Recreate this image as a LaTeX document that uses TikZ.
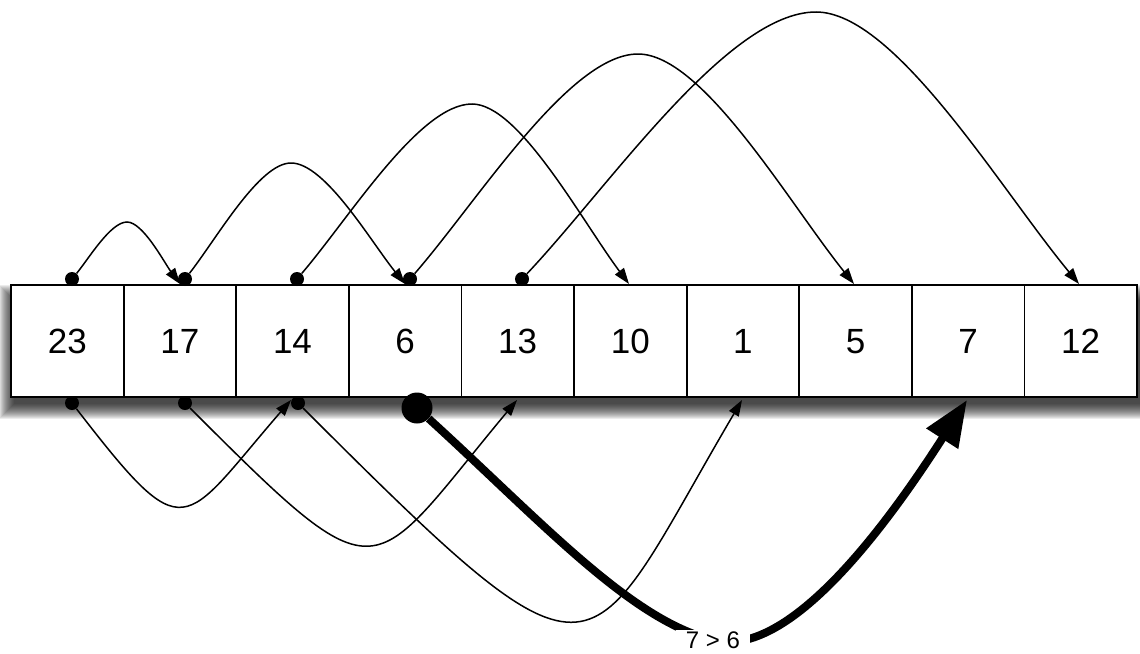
\documentclass[tikz,border=0pt]{standalone}
\usepackage{fontspec}
\setmainfont{Liberation Sans}
\usetikzlibrary{arrows.meta}
\begin{document}
\begin{tikzpicture}[x=1pt,y=-1pt,
  cell/.style={draw, line width=1.8pt, fill=white, minimum width=112.6pt, minimum height=112pt, inner sep=0pt, text height=25pt, text depth=0pt, font=\fontsize{35}{40}\selectfont},
  dot/.style={circle, fill=black, inner sep=0pt, minimum size=14pt},
  bigdot/.style={circle, fill=black, inner sep=0pt, minimum size=31pt},
  arc/.style={line width=1.5pt, -{Triangle[length=16pt,width=11pt]}},
  heavy/.style={line width=8pt, -{Triangle[length=46pt,width=36pt]}},
  lbl/.style={fill=white, inner xsep=10pt, inner ysep=2pt, font=\fontsize{24}{26}\selectfont}]
\useasboundingbox (0,0) rectangle (1140,653);
% shadow
\foreach \i in {0,...,15} { \fill[black, opacity=0.075] ({14-\i}, {300-\i}) rectangle ({1140+\i}, {404+\i}); }
% cells
\foreach \v [count=\k from 0] in {23,17,14,6,13,10,1,5,7,12}
  \node[cell] (c\k) at ({67.3+112.6*\k}, 341) {\v};
% top dots
\node[dot] (t0) at (72,279) {};
\node[dot] (t1) at (185,279) {};
\node[dot] (t2) at (297,279) {};
\node[dot] (t3) at (410,279) {};
\node[dot] (t4) at (522,279) {};
% bottom dots
\node[dot] (b0) at (72,403) {};
\node[dot] (b1) at (185,403) {};
\node[dot] (b2) at (298,403) {};
\node[bigdot] (d6) at (417,408) {};
% arrow ends
\coordinate (a1) at (180,284);
\coordinate (a3) at (405,284);
\coordinate (a5) at (629,284);
\coordinate (a7) at (854,284);
\coordinate (a9) at (1079,284);
\coordinate (e2) at (291,400);
\coordinate (e4) at (517,400);
\coordinate (e6) at (742,400);
\coordinate (e8) at (967,400);
% peaks
\coordinate (p1) at (127,222);
\coordinate (p2) at (291,163);
\coordinate (p3) at (472,104);
\coordinate (p4) at (638,54);
\coordinate (p5) at (816,12);
\coordinate (m) at (713,640);
% top arcs
\draw[arc] (t0) .. controls +(16.5,-20) and +(-16.5,0) .. (p1) .. controls +(15.9,0) and +(-15.9,-21.7) .. (a1);
\draw[arc] (t1) .. controls +(31.8,-40.6) and +(-31.8,0) .. (p2) .. controls +(34.2,0) and +(-34.2,-42.4) .. (a3);
\draw[arc] (t2) .. controls +(52.5,-61.3) and +(-52.5,0) .. (p3) .. controls +(47.1,0) and +(-47.1,-63) .. (a5);
\draw[arc] (t3) .. controls +(68.4,-78.8) and +(-68.4,0) .. (p4) .. controls +(64.8,0) and +(-64.8,-80.5) .. (a7);
\draw[arc] (t4) .. controls +(88.2,-93.5) and +(-88.2,0) .. (p5) .. controls +(78.9,0) and +(-78.9,-95.2) .. (a9);
% bottom arcs
\draw[arc] (b0) .. controls (187,552) and (181,527) .. (e2);
\draw[arc] (b1) .. controls (385,603) and (367,580) .. (e4);
\draw[arc] (b2) .. controls (608,713) and (582,672) .. (e6);
\draw[heavy] (d6) .. controls (540,520) and (630,620) .. (m) .. controls (790,660) and (890,520) .. (e8);
\node[lbl] (lab) at (m) {7 > 6};
\end{tikzpicture}
\end{document}
